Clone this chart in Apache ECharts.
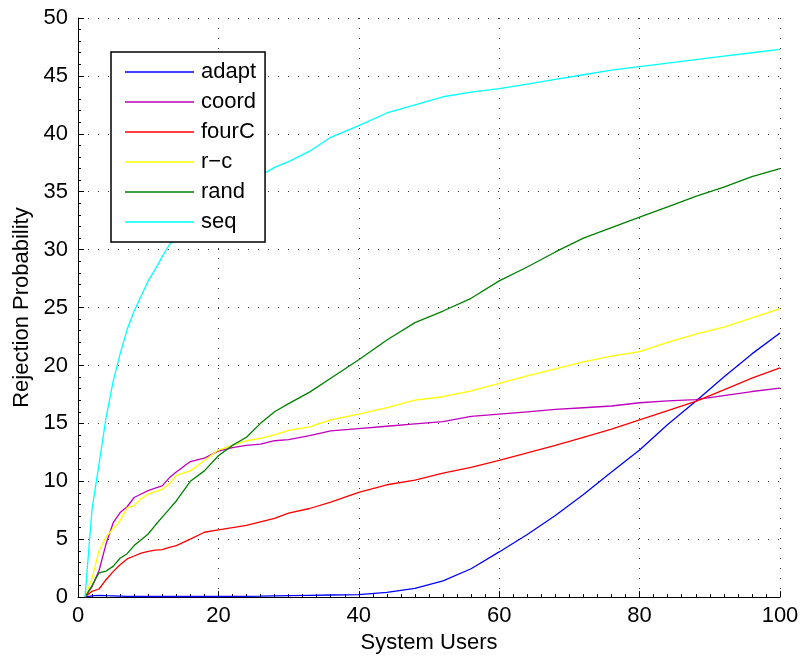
<!DOCTYPE html>
<html>
<head>
<meta charset="utf-8">
<script src="https://cdn.jsdelivr.net/npm/echarts@6/dist/echarts.min.js"></script>
<style>
html,body{margin:0;padding:0;background:#fff;}
#chart{width:802px;height:659px;}
</style>
</head>
<body>
<div id="chart"></div>
<script>
const users = [1,2,3,4,5,6,7,8,9,10,11,12,13,14,16,18,20,22,24,26,28,30,33,36,40,44,48,52,56,60,64,68,72,76,80,84,88,92,96,100];
const seriesNames = ['adapt','coord','fourC','r\u2212c','rand','seq'];
const adapt = [0,0.1,0.15,0.12,0.1,0.08,0.06,0.05,0.05,0.05,0.05,0.05,0.05,0.05,0.05,0.05,0.05,0.06,0.07,0.08,0.1,0.12,0.15,0.18,0.22,0.4,0.75,1.4,2.45,3.9,5.4,7.05,8.85,10.8,12.7,14.9,16.9,19.0,21.0,22.8];
const coord = [0,0.9,2.3,4.6,6.4,7.3,7.8,8.6,8.9,9.2,9.4,9.6,10.3,10.8,11.7,12.0,12.6,12.9,13.1,13.2,13.5,13.6,13.95,14.35,14.55,14.75,14.95,15.15,15.6,15.8,16.0,16.2,16.35,16.5,16.78,16.95,17.05,17.4,17.75,18.05];
const fourC = [0,0.5,0.7,1.5,2.2,2.8,3.3,3.55,3.8,3.95,4.05,4.1,4.3,4.45,5.0,5.6,5.8,6.0,6.2,6.5,6.8,7.25,7.65,8.2,9.05,9.7,10.1,10.7,11.2,11.8,12.45,13.1,13.8,14.5,15.3,16.1,16.9,17.9,18.9,19.8];
const rc = [0,1.6,4.0,5.2,5.9,6.6,7.7,7.9,8.5,8.9,9.1,9.3,9.8,10.5,10.9,11.8,12.7,13.1,13.5,13.7,14.0,14.4,14.7,15.3,15.8,16.35,17.0,17.3,17.8,18.45,19.1,19.7,20.3,20.8,21.2,22.0,22.7,23.3,24.1,24.9];
const rand = [0,1.0,2.1,2.25,2.65,3.35,3.75,4.45,4.95,5.45,6.2,6.9,7.6,8.3,10.0,10.9,12.2,13.1,13.8,15.0,16.0,16.7,17.7,18.9,20.5,22.2,23.7,24.7,25.8,27.3,28.5,29.8,31.0,31.9,32.8,33.7,34.6,35.4,36.3,37.0];
const seq = [0,7.6,11.5,15.5,18.6,21.0,23.1,24.7,26.0,27.3,28.3,29.4,30.4,31.2,32.3,33.3,34.1,34.9,35.6,36.4,37.1,37.6,38.5,39.7,40.7,41.8,42.5,43.2,43.6,43.9,44.3,44.7,45.1,45.5,45.8,46.1,46.4,46.7,47.0,47.3];
const xTicks = [0,20,40,60,80,100];
const yTicks = [0,5,10,15,20,25,30,35,40,45,50];

const values = [adapt, coord, fourC, rc, rand, seq];
const colors = ['#0000ff','#bf00bf','#ff0000','#ffff00','#008000','#00ffff'];
const font = '"Liberation Sans", Arial, Helvetica, sans-serif';

const chart = echarts.init(document.getElementById('chart'), null, {renderer:'canvas'});
chart.setOption({
  animation: false,
  backgroundColor: '#ffffff',
  grid: {left: 78, right: 22, top: 18, bottom: 59, containLabel: false},
  legend: {
    orient: 'vertical',
    left: 111, top: 52,
    z: 50, zlevel: 0,
    padding: [9, 9, 9, 14],
    icon: 'rect',
    itemWidth: 69, itemHeight: 1.5, itemGap: 8,
    backgroundColor: '#ffffff',
    borderColor: '#000000', borderWidth: 1.5,
    textStyle: {fontFamily: font, fontSize: 22, color: '#000', lineHeight: 22, padding: [0,0,0,2]},
    data: seriesNames
  },
  xAxis: {
    type: 'value', min: xTicks[0], max: xTicks[xTicks.length-1], interval: 20,
    name: 'System Users', nameLocation: 'middle', nameGap: 32,
    nameTextStyle: {fontFamily: font, fontSize: 22, color: '#000'},
    axisLine: {show: true, lineStyle: {color: '#000', width: 1}},
    axisTick: {show: true, inside: true, length: 6, lineStyle: {color: '#000'}},
    minorTick: {show: true, splitNumber: 10, length: 3, lineStyle: {color: '#000'}},
    axisLabel: {fontFamily: font, fontSize: 22, color: '#000', margin: 8},
    splitLine: {show: true, lineStyle: {color: '#333', width: 1, type: [1, 9]}}
  },
  yAxis: {
    type: 'value', min: yTicks[0], max: yTicks[yTicks.length-1], interval: 5,
    name: 'Rejection Probability', nameLocation: 'middle', nameGap: 39,
    nameTextStyle: {fontFamily: font, fontSize: 22, color: '#000'},
    axisLine: {show: true, lineStyle: {color: '#000', width: 1}},
    axisTick: {show: true, inside: true, length: 6, lineStyle: {color: '#000'}},
    minorTick: {show: true, splitNumber: 5, length: 3, lineStyle: {color: '#000'}},
    axisLabel: {fontFamily: font, fontSize: 22, color: '#000', margin: 10},
    splitLine: {show: true, lineStyle: {color: '#333', width: 1, type: [1, 9]}}
  },
  series: seriesNames.map((n, i) => ({
    name: n,
    type: 'line',
    data: users.map((u, j) => [u, values[i][j]]),
    symbol: 'none',
    showSymbol: false,
    color: colors[i],
    lineStyle: {color: colors[i], width: 1.3},
    itemStyle: {color: colors[i]},
    z: 2
  }))
});
</script>
</body>
</html>
